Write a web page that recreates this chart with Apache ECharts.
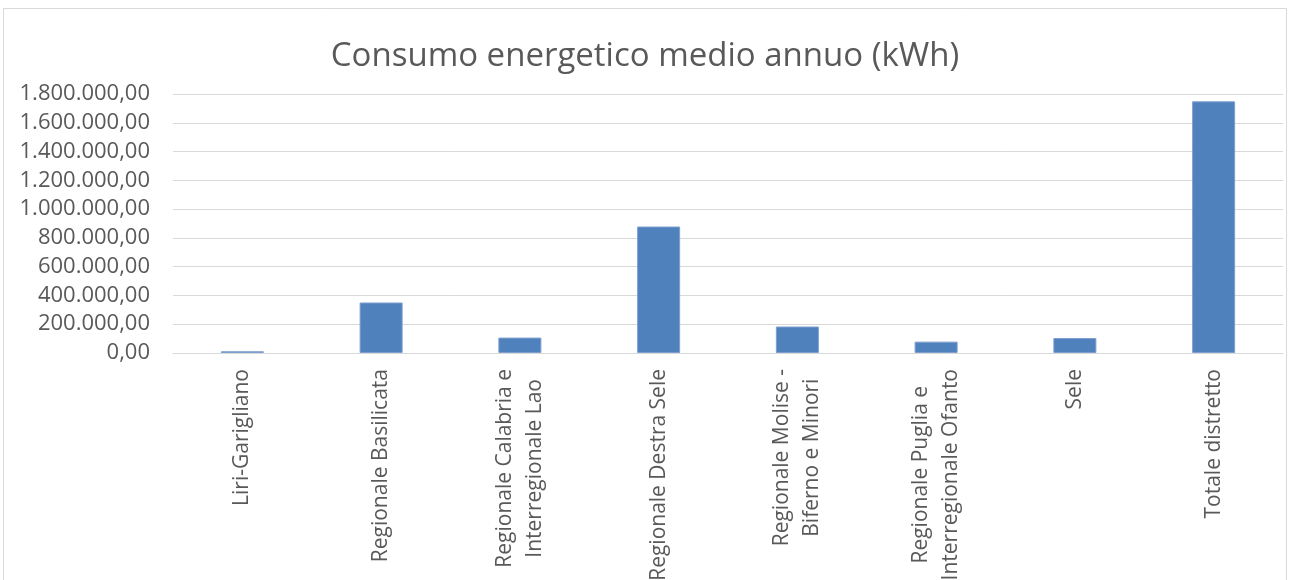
<!DOCTYPE html>
<html>
<head>
<meta charset="utf-8">
<script src="https://cdn.jsdelivr.net/npm/echarts@6/dist/echarts.min.js"></script>
<style>
  html, body { margin: 0; padding: 0; background: #ffffff; }
  #chart { width: 1290px; height: 580px; }
</style>
</head>
<body>
<div id="chart"></div>
<script>
// Distretti / comprensori
const categories = [
  'Liri-Garigliano',
  'Regionale Basilicata',
  'Regionale Calabria e\nInterregionale Lao',
  'Regionale Destra Sele',
  'Regionale Molise -\nBiferno e Minori',
  'Regionale Puglia e\nInterregionale Ofanto',
  'Sele',
  'Totale distretto'
];

// Consumo energetico medio annuo (kWh)
const consumo = [12000, 351000, 107000, 879000, 184000, 79000, 104000, 1749000];

const chartTitle = 'Consumo energetico medio annuo (kWh)';

// Italian number format: 1.800.000,00
function formatIt(v) {
  const parts = Math.round(v).toString().replace(/\B(?=(\d{3})+(?!\d))/g, '.');
  return parts + ',00';
}

const chart = echarts.init(document.getElementById('chart'), null, { renderer: 'canvas' });

chart.setOption({
  animation: false,
  backgroundColor: '#ffffff',
  textStyle: { fontFamily: '"Open Sans", sans-serif' },
  title: {
    text: chartTitle,
    left: 'center',
    top: 35,
    textStyle: {
      fontFamily: '"Open Sans", sans-serif',
      fontSize: 33,
      fontWeight: 'normal',
      color: '#595959'
    }
  },
  graphic: [{
    type: 'rect',
    silent: true,
    shape: { x: 3.5, y: 8.5, width: 1283, height: 620 },
    style: { fill: 'none', stroke: '#d9d9d9', lineWidth: 1 }
  }],
  grid: {
    left: 173, right: 7, top: 94, bottom: 227,
    containLabel: false,
    outerBoundsMode: 'none'
  },
  xAxis: {
    type: 'category',
    data: categories,
    axisLine: { show: true, lineStyle: { color: '#d9d9d9', width: 1 } },
    axisTick: { show: false },
    axisLabel: {
      rotate: 90,
      margin: 16,
      interval: 0,
      color: '#595959',
      fontSize: 21,
      lineHeight: 30,
      formatter: function (v) {
        return v.split('\n').map(function (s) { return '{c|' + s + '}'; }).join('\n');
      },
      rich: {
        c: {
          align: 'center',
          fontSize: 21,
          lineHeight: 30,
          color: '#595959',
          fontFamily: '"Open Sans", sans-serif'
        }
      }
    }
  },
  yAxis: {
    type: 'value',
    min: 0,
    max: 1800000,
    interval: 200000,
    axisLine: { show: false },
    axisTick: { show: false },
    splitLine: { lineStyle: { color: '#d9d9d9', width: 1 } },
    axisLabel: {
      margin: 23,
      color: '#595959',
      fontSize: 22,
      formatter: formatIt
    }
  },
  series: [{
    type: 'bar',
    data: consumo,
    barWidth: '31%',
    itemStyle: {
      color: '#4f81bd',
      borderColor: '#7d9fd0',
      borderWidth: 1
    }
  }]
});
</script>
</body>
</html>
